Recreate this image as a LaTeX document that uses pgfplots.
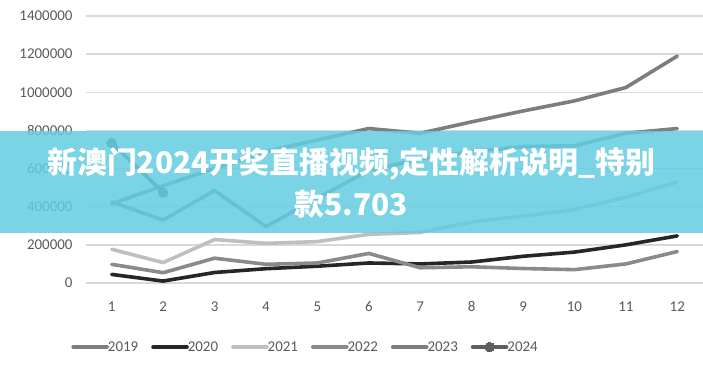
\documentclass[border=0pt]{standalone}
\usepackage{pgfplots}
\pgfplotsset{compat=1.18}
\usepackage{fontspec}
\setmainfont{Carlito}
\newfontfamily\cjk{Noto Sans CJK SC}
\definecolor{gridc}{HTML}{D9D9D9}
\definecolor{txt}{HTML}{595959}
\definecolor{cA}{HTML}{7F7F7F}
\definecolor{cB}{HTML}{262626}
\definecolor{cC}{HTML}{BFBFBF}
\definecolor{cD}{HTML}{8A8A8A}
\definecolor{cE}{HTML}{7D7D7D}
\definecolor{cF}{HTML}{5F5F5F}
\definecolor{banner}{RGB}{100,205,226}
\begin{document}
\begin{tikzpicture}
\path[use as bounding box] (0,0) rectangle (703bp,367bp);
\begin{axis}[
  at={(86bp,84bp)}, anchor=south west,
  scale only axis, width=617bp, height=267bp,
  xmin=0.5, xmax=12.5, ymin=0, ymax=1400000,
  xtick={1,...,12}, ytick={0,200000,...,1400000},
  axis line style={draw=none},
  major tick length=0pt,
  ymajorgrids, grid style={gridc, line width=1.5bp},
  scaled y ticks=false,
  /pgf/number format/assume math mode=true,
  yticklabel={\pgfmathprintnumber[fixed,precision=0,1000 sep={}]{\tick}},
  ticklabel style={font=\fontsize{15}{18}\selectfont, text=txt},
  xticklabel style={yshift=-15bp},
  yticklabel style={xshift=-10bp},
  clip=false,
  every axis plot/.append style={line width=3.6bp, line join=round, line cap=round},
  legend columns=6,
  legend style={at={(0.355,-0.24)}, anchor=center, draw=none, fill=none,
    font=\fontsize{15}{18}\selectfont, text=txt,
    /tikz/every even column/.append style={column sep=12bp},
    /tikz/every odd column/.append style={column sep=-2bp},
    nodes={inner sep=1bp}},
  legend image code/.code={\draw[mark repeat=2,mark phase=2,#1] plot coordinates {(0bp,0bp) (17bp,0bp) (34bp,0bp)};},
]
\addplot[cA, no marks] coordinates {(1,425000)(2,330000)(3,485000)(4,296000)(5,445000)(6,590000)(7,650000)(8,690000)(9,715000)(10,720000)(11,785000)(12,810000)};
\addlegendentry{2019}
\addplot[cB, no marks] coordinates {(1,45000)(2,10000)(3,55000)(4,75000)(5,88000)(6,105000)(7,100000)(8,110000)(9,140000)(10,162000)(11,200000)(12,247000)};
\addlegendentry{2020}
\addplot[cC, no marks] coordinates {(1,177000)(2,107000)(3,228000)(4,208000)(5,217000)(6,255000)(7,265000)(8,320000)(9,352000)(10,385000)(11,450000)(12,530000)};
\addlegendentry{2021}
\addplot[cD, no marks] coordinates {(1,98000)(2,54000)(3,130000)(4,98000)(5,105000)(6,155000)(7,80000)(8,85000)(9,76000)(10,70000)(11,100000)(12,165000)};
\addlegendentry{2022}
\addplot[cE, no marks] coordinates {(1,415000)(2,510000)(3,600000)(4,690000)(5,750000)(6,810000)(7,785000)(8,845000)(9,902000)(10,955000)(11,1025000)(12,1190000)};
\addlegendentry{2023}
\addplot[cF, mark=*, mark size=4.8bp, mark options={fill=cF, draw=cF, line width=0pt}] coordinates {(1,735000)(2,475000)};
\addlegendentry{2024}
\end{axis}
\fill[banner, opacity=0.85] (0,134bp) rectangle (703bp,236bp);
\node[text=white, align=center, font=\cjk\bfseries\fontsize{30}{42}\selectfont, inner sep=0pt] at (351.5bp,184bp) {新澳门2024开奖直播视频,定性解析说明\_特别\\款5.703};
\end{tikzpicture}
\end{document}
